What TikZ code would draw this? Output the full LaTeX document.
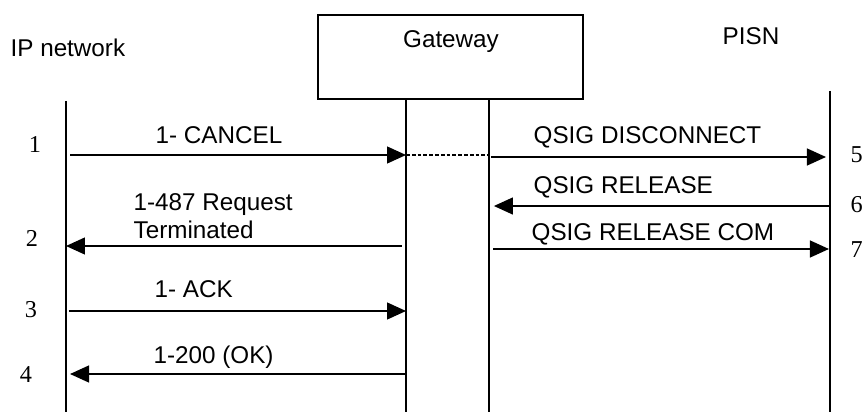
\documentclass[tikz,border=0pt]{standalone}
\usepackage{fontspec}
\setmainfont{Liberation Sans}
\newfontfamily\numfont{Liberation Serif}
\usetikzlibrary{arrows.meta}

\begin{document}
\begin{tikzpicture}[x=0.02cm, y=-0.02cm, line width=0.75pt,
  msg/.style={-{Triangle[length=0.38cm,width=0.34cm]}},
  lbl/.style={anchor=base west, inner sep=0pt, font=\fontsize{13.8}{16}\selectfont},
  num/.style={anchor=base, inner sep=0pt, font=\numfont\fontsize{13.8}{16}\selectfont}]
  \useasboundingbox (0,0) rectangle (865,412);

  % Teilnehmer
  \node[draw, minimum width=5.3cm, minimum height=1.68cm, inner sep=0pt] (gw) at (450.5,57) {};
  \node[lbl, anchor=base] (gwname) at (451,48) {Gateway};
  \node[lbl] (ipname) at (10,57) {IP network};
  \node[lbl] (pisnname) at (722,45) {PISN};

  \coordinate (ip) at (66,101);
  \coordinate (gwl) at (406,99);
  \coordinate (gwr) at (489,99);
  \coordinate (pisn) at (830,91);
  \coordinate (bot) at (0,413);
  \foreach \l in {ip,gwl,gwr,pisn}
    \draw (\l) -- (\l |- bot);

  % Nachrichten
  \coordinate (r1) at (0,155);
  \coordinate (r2) at (0,246);
  \coordinate (r3) at (0,311);
  \coordinate (r4) at (0,374);
  \coordinate (r5) at (0,157);
  \coordinate (r6) at (0,206);
  \coordinate (r7) at (0,249);

  \draw[msg, shorten <=2.3pt] (ip |- r1) -- (gwl |- r1);
  \draw[line width=1.5pt, dash pattern=on 2.2pt off 1.1pt] (gwl |- r1) -- (gwr |- r1);
  \draw[msg, shorten <=2.3pt] (gwl |- r2) -- (ip |- r2);
  \draw[msg, shorten <=1.7pt] (ip |- r3) -- (gwl |- r3);
  \draw[msg, shorten >=2.3pt] (gwl |- r4) -- (ip |- r4);
  \draw[msg, shorten <=1.1pt, shorten >=2.3pt] (gwr |- r5) -- (pisn |- r5);
  \draw[msg, shorten >=2.8pt] (pisn |- r6) -- (gwr |- r6);
  \draw[msg, shorten <=2.3pt, shorten >=0.6pt] (gwr |- r7) -- (pisn |- r7);

  \node[lbl] (m1) at (155,143) {1- CANCEL};
  \node[lbl] (m2a) at (133,210) {1-487 Request};
  \node[lbl] (m2b) at (133,238) {Terminated};
  \node[lbl] (m3) at (154,297) {1- ACK};
  \node[lbl] (m4) at (153,363) {1-200 (OK)};
  \node[lbl] (m5) at (533,143) {QSIG DISCONNECT};
  \node[lbl] (m6) at (533,193) {QSIG RELEASE};
  \node[lbl] (m7) at (531,240) {QSIG RELEASE COM};

  % Schritte
  \node[num] (n1) at (35,153) {1};
  \node[num] (n2) at (32,246) {2};
  \node[num] (n3) at (31,317) {3};
  \node[num] (n4) at (26,382) {4};
  \node[num, anchor=base west] (n5) at (850,162) {5};
  \node[num, anchor=base west] (n6) at (850,212) {6};
  \node[num, anchor=base west] (n7) at (850,257) {7};
\end{tikzpicture}
\end{document}
